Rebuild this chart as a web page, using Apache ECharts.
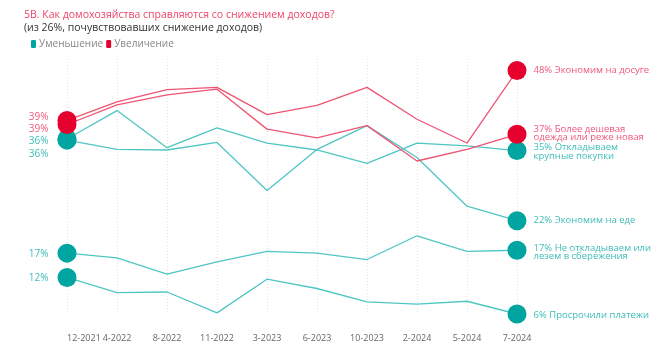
<!DOCTYPE html>
<html><head><meta charset="utf-8">
<script src="https://cdn.jsdelivr.net/npm/echarts@6/dist/echarts.min.js"></script>
<style>html,body{margin:0;padding:0;background:#fff}#c{width:662px;height:358px}</style>
</head><body><div id="c"></div>
<script>
const categories = ['12-2021','4-2022','8-2022','11-2022','3-2023','6-2023','10-2023','2-2024','5-2024','7-2024'];
const leisure      = [39.4, 42.6, 44.7, 45.1, 40.4, 42.0, 45.1, 39.6, 35.5, 48.0];
const clothes      = [38.7, 42.1, 43.8, 44.8, 37.9, 36.4, 38.5, 32.4, 34.4, 37.0];
const bigPurchases = [36.2, 41.1, 34.7, 38.1, 35.5, 34.3, 32.0, 35.5, 35.0, 34.2];
const food         = [36.0, 34.4, 34.3, 35.6, 27.3, 34.4, 38.5, 33.0, 24.6, 22.1];
const savings      = [16.5, 15.7, 12.9, 15.0, 16.8, 16.5, 15.4, 19.5, 16.8, 17.0];
const overdue      = [12.3, 9.7, 9.8, 6.2, 12.0, 10.4, 8.1, 7.7, 8.2, 6.0];
const startLabels = ['39%','39%','36%','36%','17%','12%'];
const endLabels = ['48% Экономим на досуге','37% Более дешевая\nодежда или реже новая','35% Откладываем\nкрупные покупки','22% Экономим на еде','17% Не откладываем или\nлезем в сбережения','6% Просрочили платежи'];
const groupNames = ['Уменьшение','Увеличение'];

const FONT = 'Open Sans';
const RED = '#e5002d', RED_LINE = '#ef5472', RED_TEXT = '#f0587a';
const TEAL = '#00a4a0', TEAL_LINE = '#4fc6c3', TEAL_TEXT = '#3dbdb9';

const defs = [
  {data: leisure, group: 1, startOff: -3, endOff: 0},
  {data: clothes, group: 1, startOff: 5, endOff: -1},
  {data: bigPurchases, group: 0, startOff: 2, endOff: 1},
  {data: food, group: 0, startOff: 14, endOff: 0},
  {data: savings, group: 0, startOff: 1, endOff: 2},
  {data: overdue, group: 0, startOff: 1, endOff: 1}
];
const last = categories.length - 1;

const series = defs.map((d, i) => {
  const isRed = d.group === 1;
  const txt = isRed ? RED_TEXT : TEAL_TEXT;
  return {
    name: groupNames[d.group],
    type: 'line',
    showAllSymbol: true,
    symbol: 'circle',
    symbolSize: (v, p) => (p.dataIndex === 0 || p.dataIndex === last) ? 19 : 0,
    itemStyle: {color: isRed ? RED : TEAL},
    lineStyle: {color: isRed ? RED_LINE : TEAL_LINE, width: 1.3},
    z: isRed ? 3 : 2,
    clip: false,
    data: d.data.map((v, j) => {
      if (j === 0) return {value: v, label: {show: true, position: 'left', distance: 9, offset: [0, d.startOff], formatter: startLabels[i], color: txt, fontSize: 10, fontFamily: FONT}};
      if (j === last) return {value: v, label: {show: true, position: 'right', distance: 7, offset: [0, d.endOff], formatter: endLabels[i], color: txt, fontSize: 9.5, lineHeight: 8.5, fontFamily: FONT}};
      return v;
    }),
    emphasis: {disabled: true}
  };
});

const chart = echarts.init(document.getElementById('c'), null, {renderer: 'canvas'});
chart.setOption({
  animation: false,
  textStyle: {fontFamily: FONT},
  title: {
    text: '5В. Как домохозяйства справляются со снижением доходов?',
    subtext: '(из 26%, почувствовавших снижение доходов)',
    left: 19, top: 5, itemGap: 2,
    textStyle: {color: '#ef4468', fontSize: 10.5, fontWeight: 'normal', fontFamily: FONT},
    subtextStyle: {color: '#333', fontSize: 10.5, fontFamily: FONT}
  },
  legend: {
    data: groupNames,
    left: 26, top: 34, itemWidth: 5, itemHeight: 8, itemGap: 3,
    icon: 'roundRect',
    textStyle: {color: '#888', fontSize: 10, fontFamily: FONT, padding: [0,0,0,-2]}
  },
  grid: {left: 67, right: 145, top: 59, bottom: 44, containLabel: false},
  xAxis: {
    type: 'category', data: categories, boundaryGap: false,
    axisLine: {show: false}, axisTick: {show: false},
    axisLabel: {color: '#666', fontSize: 9, margin: 20, alignMinLabel: 'left', fontFamily: FONT},
    splitLine: {show: true, lineStyle: {color: '#e4e4e4', type: [1, 2], width: 1}}
  },
  yAxis: {type: 'value', min: 6, max: 50, show: false, splitLine: {show: false}},
  series: series
});
</script></body></html>
